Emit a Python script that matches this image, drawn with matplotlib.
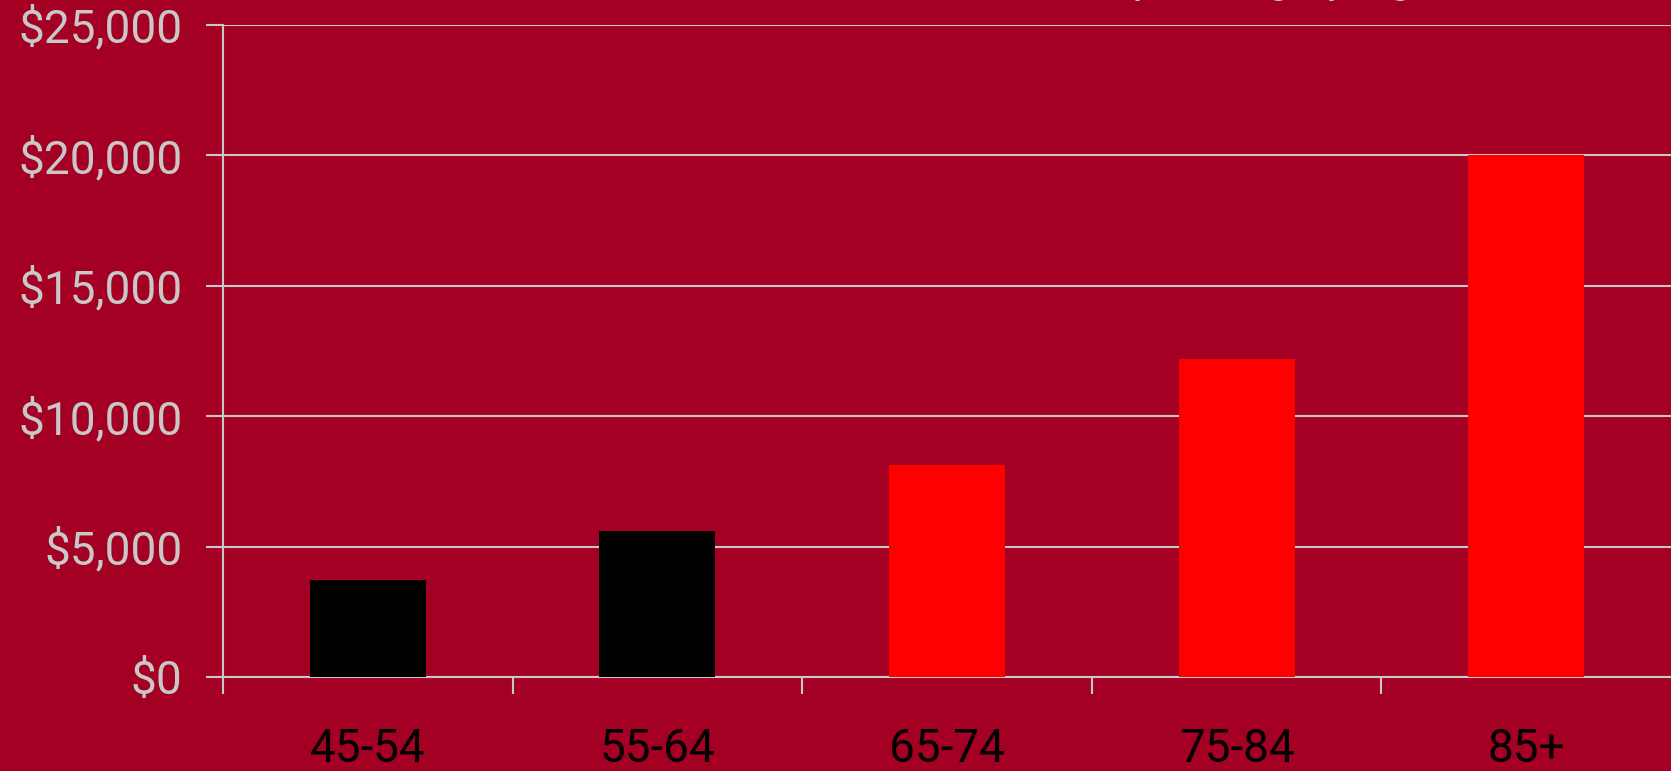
import matplotlib.pyplot as plt
from matplotlib.lines import Line2D
from matplotlib.ticker import FuncFormatter

age_groups = ['45-54', '55-64', '65-74', '75-84', '85+']
spending = [3700, 5600, 8130, 12200, 20000]
bar_colors = ['#000000', '#000000', '#ff0000', '#ff0000', '#ff0000']
y_ticks = [0, 5000, 10000, 15000, 20000, 25000]

bg = '#a30023'
grey = '#c8c8c8'

W, H = 1671, 771
fig = plt.figure(figsize=(W / 100, H / 100), dpi=100, facecolor=bg)
ax = fig.add_axes([223 / W, 1 - 677 / H, 1 - 223 / W, (677 - 24.5) / H])
ax.set_facecolor(bg)

x = range(len(age_groups))
ax.bar(x, spending, width=0.4, color=bar_colors, zorder=3)

ax.set_xlim(-0.5, 4.5)
ax.set_ylim(0, 25000)
ax.set_yticks(y_ticks)
ax.yaxis.set_major_formatter(FuncFormatter(lambda v, p: '${:,.0f}'.format(v)))
ax.grid(axis='y', color=grey, linewidth=1.5, zorder=1)

# category labels in the middle, tick marks between groups
ax.set_xticks(list(x))
ax.set_xticklabels(age_groups)
ax.set_xticks([0.5, 1.5, 2.5, 3.5], minor=True)
ax.tick_params(axis='x', which='major', length=0, pad=36, labelsize=33,
               labelcolor='black')
ax.tick_params(axis='x', which='minor', length=12, width=1.5, color=grey,
               direction='out')
ax.tick_params(axis='y', length=12, width=1.5, color=grey, pad=17,
               labelsize=33, labelcolor=grey)
for lab in ax.get_xticklabels() + ax.get_yticklabels():
    lab.set_fontfamily(['Roboto', 'DejaVu Sans'])

for s in ['top', 'right', 'left']:
    ax.spines[s].set_visible(False)
ax.spines['bottom'].set_color(grey)
ax.spines['bottom'].set_linewidth(1.5)

# left axis line runs a little below zero
ax.add_line(Line2D([0, 0], [-16 / 652.5, 1], transform=ax.transAxes,
                   color=grey, linewidth=1.5, clip_on=False, zorder=4))

# title sits above the top edge, only its descenders show
fig.text(1437 / W, 1 + 8 / H, 'Health Care Spending by Age', ha='right',
         va='baseline', fontsize=32, color=grey, fontfamily=['Roboto', 'DejaVu Sans'])

fig.savefig('out.png', dpi=100, facecolor=bg)
